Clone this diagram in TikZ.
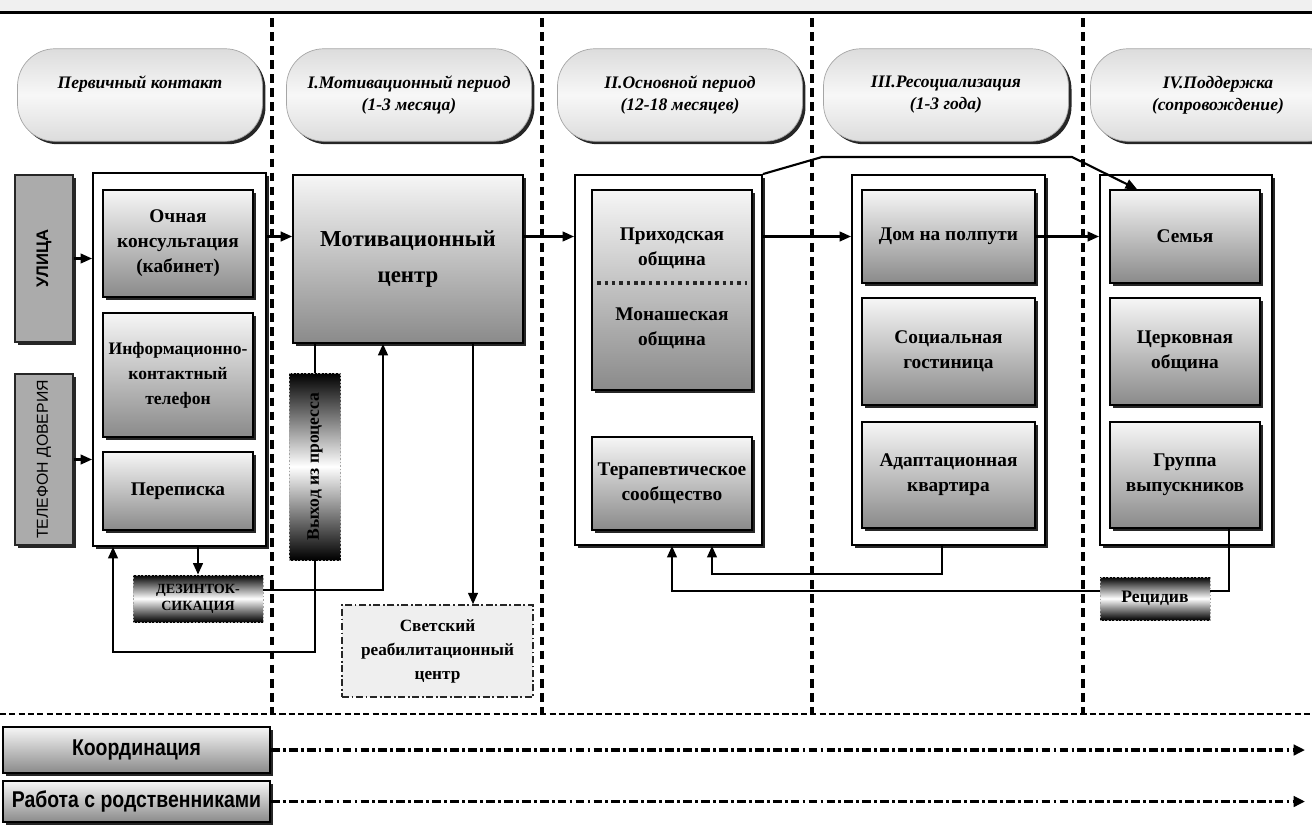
\documentclass[tikz,border=0pt]{standalone}
\usepackage{fontspec}
\setmainfont{Liberation Serif}
\setsansfont{Liberation Sans}
\newfontfamily\narrowsans[FakeStretch=0.85]{Liberation Sans}
\usepackage{graphicx}
\usepackage{tikz}
\usetikzlibrary{arrows.meta,positioning,calc,shadows}
\definecolor{boxtop}{HTML}{F6F6F6}
\definecolor{boxbot}{HTML}{8A8A8A}
\definecolor{sidegray}{HTML}{ABABAB}
\definecolor{pillfill}{HTML}{DCDCDC}
\definecolor{secfill}{HTML}{EFEFEF}
\tikzset{
  boxshadow/.style={drop shadow={shadow xshift=1.7pt, shadow yshift=-1.7pt, fill=black, opacity=0.85}},
  pill/.style={boxshadow, draw=gray!70, top color=pillfill, bottom color=pillfill, middle color=gray!6,
               rounded corners=0.75cm, minimum width=4.9cm, minimum height=1.85cm,
               align=center, font=\fontsize{10}{12.5}\selectfont\bfseries\itshape},
  groupframe/.style={boxshadow, draw=black, line width=1.1pt, fill=white},
  unitbox/.style={boxshadow, draw=black, line width=1pt, top color=boxtop, bottom color=boxbot,
                  align=center, inner sep=2pt, font=\fontsize{11}{14.2}\selectfont\bfseries},
  sidebox/.style={boxshadow, draw=black!85, line width=0.9pt, fill=sidegray, inner sep=1pt},
  exitbox/.style={draw=gray!70, dash pattern=on 1pt off 1pt, line width=0.5pt,
                  top color=black, bottom color=black, middle color=white, align=center, inner sep=1pt},
  secular/.style={draw=black!85, line width=0.8pt, dash pattern=on 4pt off 1.5pt on 1pt off 1.5pt,
                  fill=secfill, align=center, font=\fontsize{9.8}{13.7}\selectfont\bfseries},
  bottomtag/.style={unitbox, font=\narrowsans\bfseries\fontsize{13}{15}\selectfont},
  flow/.style={-{Triangle[length=6.5pt,width=5.5pt]}, line width=1.2pt},
  link/.style={line width=1.2pt},
  stageline/.style={line width=2pt, dash pattern=on 5pt off 3pt},
  floorline/.style={line width=1.5pt, dash pattern=on 3.5pt off 1.8pt},
  runline/.style={-{Triangle[length=6.5pt,width=6pt]}, line width=2pt,
                  dash pattern=on 5pt off 1.8pt on 1.6pt off 1.8pt},
}
\def\cA{3.56}
\def\cC{13.44}
\def\cD{18.97}
\def\cE{23.7}
\def\yH{-1.9}

\begin{document}
\begin{tikzpicture}
  \useasboundingbox (0,0) rectangle (26.24,-16.48);
  \fill[gray!12] (0,0) rectangle (26.24,-0.22);
  \draw[line width=1.8pt] (0,-0.25) -- (26.24,-0.25);
  \foreach \x in {5.44,10.84,16.24,21.66}
    \draw[stageline] (\x,-0.36) -- (\x,-14.28);
  \draw[floorline] (0,-14.28) -- (26.24,-14.28);

  \node[pill] (hA) at (2.8,\yH) {Первичный контакт\\\phantom{(}};
  \node[pill] (hB) at (8.18,\yH) {I.Мотивационный период\\(1-3 месяца)};
  \node[pill] (hC) at (13.6,\yH) {II.Основной период\\(12-18 месяцев)};
  \node[pill] (hD) at (18.92,\yH) {III.Ресоциализация\\(1-3 года)};
  \node[pill, minimum width=5.1cm] (hE) at (24.36,\yH) {IV.Поддержка\\(сопровождение)};

  \node[sidebox, minimum width=1.16cm, minimum height=3.34cm] (ulica) at (0.88,-5.17)
    {\rotatebox{90}{\sffamily\bfseries\fontsize{9.5}{11}\selectfont УЛИЦА}};
  \node[sidebox, minimum width=1.16cm, minimum height=3.42cm] (tel) at (0.88,-9.19)
    {\rotatebox{90}{\sffamily\fontsize{9}{11}\selectfont ТЕЛЕФОН ДОВЕРИЯ}};

  \node[groupframe, minimum width=3.46cm, minimum height=7.46cm] (fA) at (3.59,-7.19) {};
  \node[unitbox, minimum width=3cm, minimum height=2.14cm] (och) at (\cA,-4.87) {Очная\\консультация\\(кабинет)};
  \node[unitbox, minimum width=3cm, minimum height=2.48cm, font=\fontsize{10}{14.2}\selectfont\bfseries]
    (info) at (\cA,-7.5) {Информационно-\\контактный\\телефон};
  \node[unitbox, minimum width=3cm, minimum height=1.56cm] (pere) at (\cA,-9.82) {Переписка};

  \node[unitbox, minimum width=4.6cm, minimum height=3.36cm, font=\fontsize{13}{20}\selectfont\bfseries]
    (mc) at (8.16,-5.18) {Мотивационный\\центр};

  \node[groupframe, minimum width=3.74cm, minimum height=7.4cm] (fC) at (13.37,-7.2) {};
  \node[unitbox, minimum width=3.2cm, minimum height=4cm] (obsh) at (\cC,-5.8) {};
  \node[align=center, font=\fontsize{11}{14.2}\selectfont\bfseries] (prih) at (\cC,-4.96) {Приходская\\община};
  \node[align=center, font=\fontsize{11}{14.2}\selectfont\bfseries] (mon) at (\cC,-6.56) {Монашеская\\община};
  \draw[black!85, line width=2.2pt, dash pattern=on 2pt off 2.2pt] ($(obsh.west)+(0.12,0.14)$) -- ($(obsh.east)+(-0.12,0.14)$);
  \node[unitbox, minimum width=3.2cm, minimum height=1.86cm] (ter) at (\cC,-9.67) {Терапевтическое\\сообщество};

  \node[groupframe, minimum width=3.86cm, minimum height=7.4cm] (fD) at (\cD,-7.2) {};
  \node[unitbox, minimum width=3.46cm, minimum height=1.86cm] (dom) at (\cD,-4.73) {Дом на полпути};
  \node[unitbox, minimum width=3.46cm, minimum height=2.14cm] (gost) at (\cD,-7.03) {Социальная\\гостиница};
  \node[unitbox, minimum width=3.46cm, minimum height=2.12cm] (kvar) at (\cD,-9.5) {Адаптационная\\квартира};

  \node[groupframe, minimum width=3.44cm, minimum height=7.4cm] (fE) at (23.72,-7.2) {};
  \node[unitbox, minimum width=3cm, minimum height=1.86cm] (sem) at (\cE,-4.73) {Семья};
  \node[unitbox, minimum width=3cm, minimum height=2.14cm] (cerk) at (\cE,-7.03) {Церковная\\община};
  \node[unitbox, minimum width=3cm, minimum height=2.12cm] (grup) at (\cE,-9.5) {Группа\\выпускников};

  \node[exitbox, minimum width=1.02cm, minimum height=3.74cm] (vyh) at (6.3,-9.33)
    {\rotatebox{90}{\bfseries\fontsize{10}{12}\selectfont Выход из процесса}};
  \node[exitbox, minimum width=2.6cm, minimum height=0.94cm, font=\fontsize{8}{9.5}\selectfont\bfseries]
    (dez) at (3.96,-11.97) {ДЕЗИНТОК-\\СИКАЦИЯ};
  \node[exitbox, minimum width=2.2cm, minimum height=0.86cm, font=\fontsize{10}{11}\selectfont\bfseries]
    (rec) at (23.1,-11.97) {Рецидив};
  \node[secular, minimum width=3.82cm, minimum height=1.84cm] (svet) at (8.75,-13.02)
    {Светский\\реабилитационный\\центр};

  \node[bottomtag, minimum width=5.34cm, minimum height=0.92cm] (koord) at (2.73,-15.0) {Координация};
  \node[bottomtag, minimum width=5.34cm, minimum height=0.82cm] (rab) at (2.73,-16.03) {Работа с родственниками};

  \draw[flow] (ulica.east) -- (ulica.east -| fA.west);
  \draw[flow] (tel.east) -- (tel.east -| fA.west);
  \draw[flow] (dom -| fA.east) -- (dom -| mc.west);
  \draw[flow] (dom -| mc.east) -- (dom -| fC.west);
  \draw[flow] (dom -| fC.east) -- (dom -| fD.west);
  \draw[flow] (dom.east) -- (dom -| fE.west);
  \coordinate (byA) at (16.44,-3.14);
  \coordinate (byB) at (21.44,-3.14);
  \draw[flow] (fC.north east) -- (byA) -- (byB) -- ([xshift=-0.96cm]sem.north);

  \draw[link] (mc.south -| vyh.north) -- (vyh.north);
  \coordinate (backA) at (2.26,-13.04);
  \draw[flow] (vyh.south) |- (backA) -- (backA |- fA.south);
  \draw[flow] (fA.south -| dez.north) -- (dez.north);
  \draw[flow] ([yshift=0.17cm]dez.east) -| ([xshift=-0.5cm]mc.south);
  \draw[flow] ([xshift=1.3cm]mc.south) -- ([xshift=1.3cm]mc.south |- svet.north);

  \coordinate (backC) at (14.24,-11.48);
  \draw[flow] ([xshift=-0.13cm]fD.south) |- (backC) -- (backC |- fC.south);
  \draw[link] ([xshift=0.88cm]grup.south) |- ([yshift=0.15cm]rec.east);
  \draw[flow] ([yshift=0.15cm]rec.west) -| ([xshift=0.07cm]fC.south);

  \coordinate (runEnd) at (26.1,0);
  \draw[runline] (koord.east) -- (koord.east -| runEnd);
  \draw[runline] (rab.east) -- (rab.east -| runEnd);
\end{tikzpicture}
\end{document}
